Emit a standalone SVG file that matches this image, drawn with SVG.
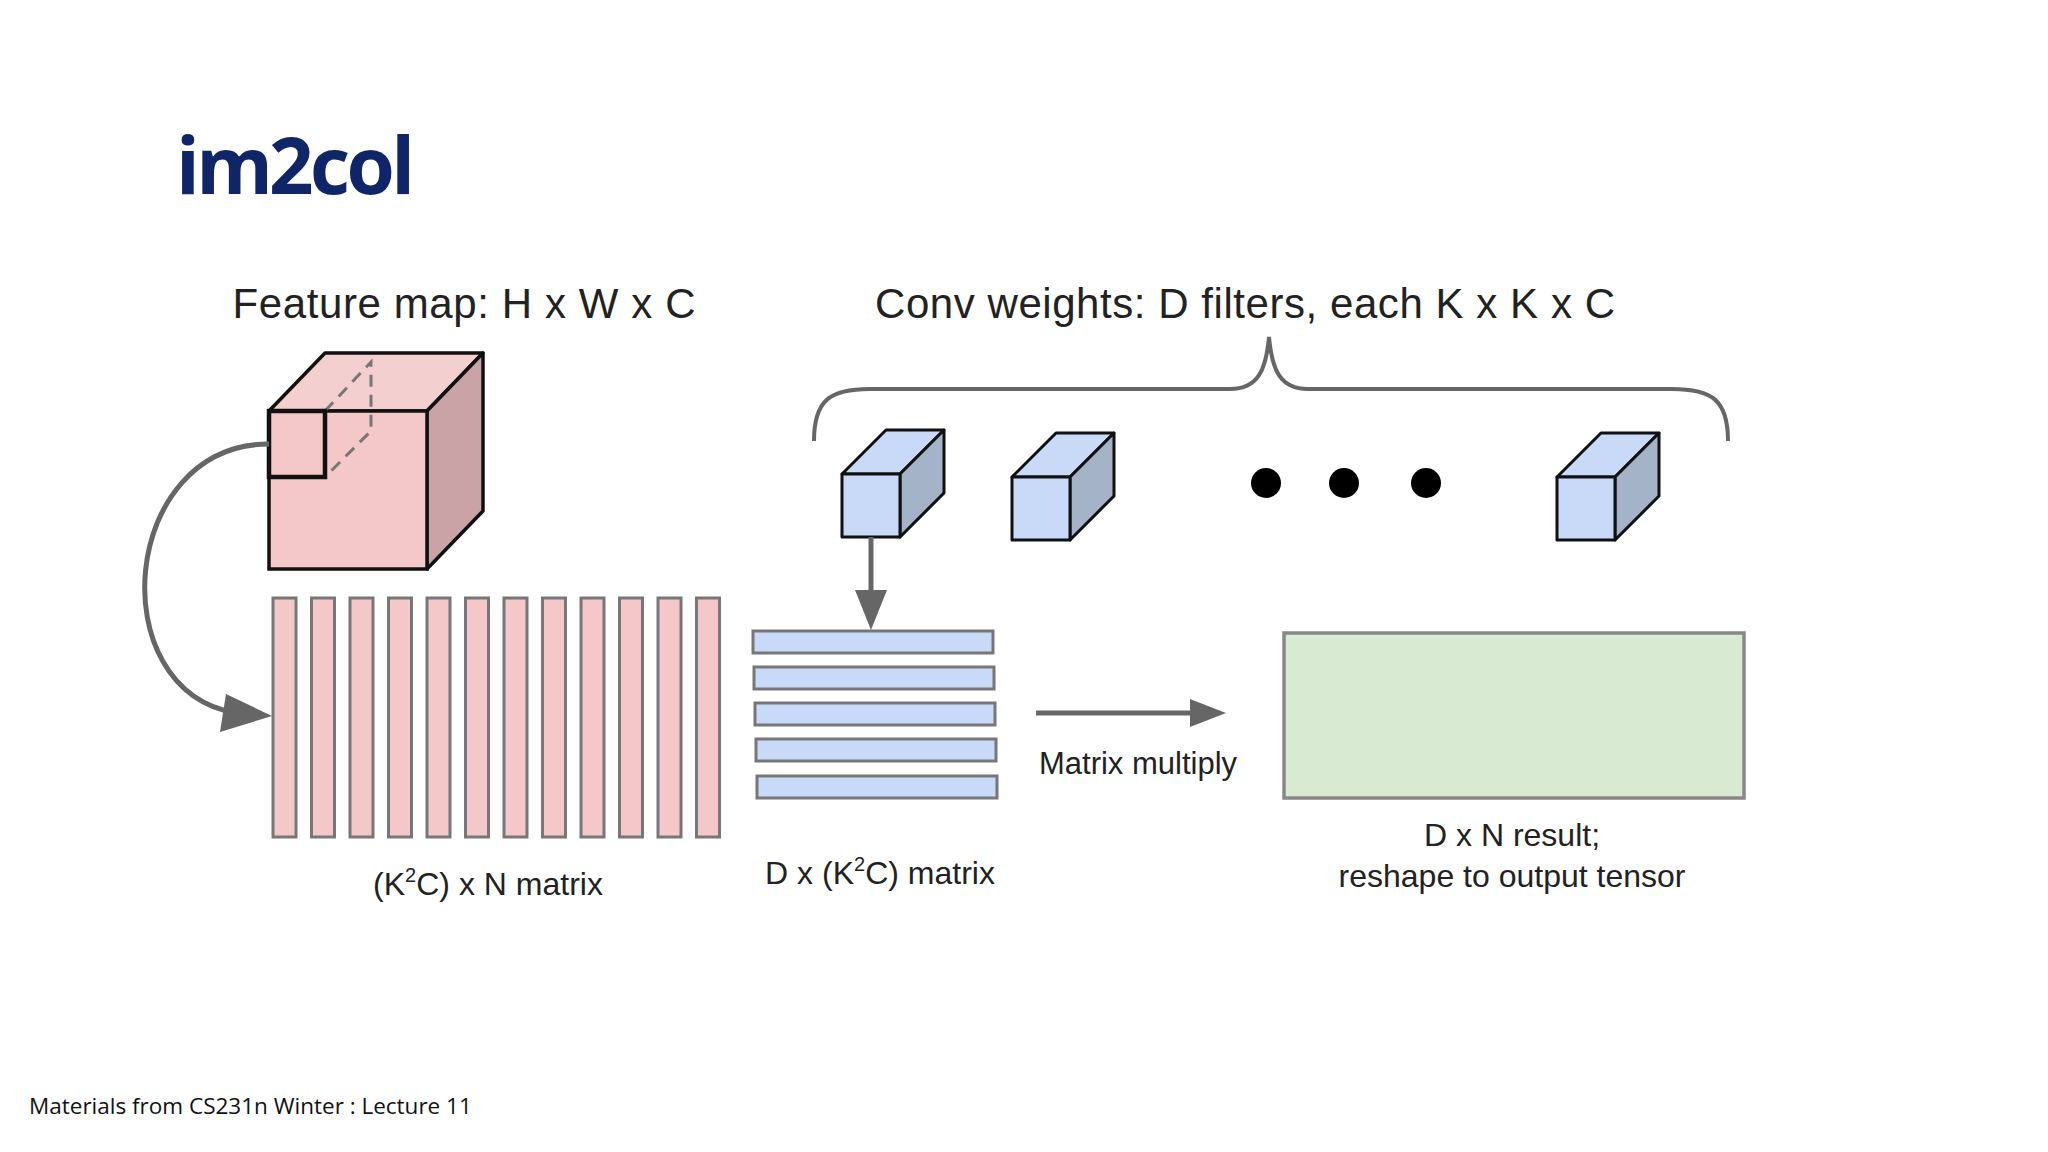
<svg xmlns="http://www.w3.org/2000/svg" width="2048" height="1152" viewBox="0 0 2048 1152">
<style>
.t{font-family:"Liberation Sans",Arial,sans-serif;fill:#222;}
.col{fill:#f4c7c8;stroke:#777;stroke-width:3;}
.bar{fill:#c9daf8;stroke:#777;stroke-width:3;}
.fr{fill:#c9daf8;stroke:#111;stroke-width:3;stroke-linejoin:round;}
.sd{fill:#a5b3c8;stroke:#111;stroke-width:3;stroke-linejoin:round;}
.conn{fill:none;stroke:#666;stroke-width:5;}
</style>
<rect width="2048" height="1152" fill="#fff"/>
<text x="176" y="194" font-family="'Open Sans',sans-serif" font-weight="bold" font-size="78" fill="#0f2567" textLength="239">im2col</text>
<text class="t" x="464" y="318" font-size="42" text-anchor="middle" textLength="463">Feature map: H x W x C</text>
<text class="t" x="1245" y="318" font-size="42" text-anchor="middle" textLength="740">Conv weights: D filters, each K x K x C</text>

<g id="feature-cube">
<polygon points="269,411 325,353 483,353 427,411" fill="#f4cfd0" stroke="#111" stroke-width="3.5" stroke-linejoin="round"/>
<polygon points="427,411 483,353 483,511 427,569" fill="#c9a3a5" stroke="#111" stroke-width="3.5" stroke-linejoin="round"/>
<rect x="269" y="411" width="158" height="158" fill="#f4c7c8" stroke="#111" stroke-width="3.5"/>
<path d="M325,411 L371,362 L371,431 L325,477" fill="none" stroke="#777" stroke-width="3" stroke-dasharray="12,8"/>
<rect x="269" y="411" width="56" height="66" fill="none" stroke="#111" stroke-width="4.5"/>
</g>

<g id="columns">
<rect class="col" x="273" y="598" width="23" height="239"/>
<rect class="col" x="311.5" y="598" width="23" height="239"/>
<rect class="col" x="350" y="598" width="23" height="239"/>
<rect class="col" x="388.5" y="598" width="23" height="239"/>
<rect class="col" x="427" y="598" width="23" height="239"/>
<rect class="col" x="465.5" y="598" width="23" height="239"/>
<rect class="col" x="504" y="598" width="23" height="239"/>
<rect class="col" x="542.5" y="598" width="23" height="239"/>
<rect class="col" x="581" y="598" width="23" height="239"/>
<rect class="col" x="619.5" y="598" width="23" height="239"/>
<rect class="col" x="658" y="598" width="23" height="239"/>
<rect class="col" x="696.5" y="598" width="23" height="239"/>
<text class="t" x="488" y="895" font-size="32" text-anchor="middle">(K<tspan font-size="20" dy="-13">2</tspan><tspan dy="13">C) x N matrix</tspan></text>
</g>

<g id="filters">
<path d="M814,441 C814,400 830,389 870,389 L1230,389 C1258,389 1266,370 1269,337 C1272,370 1280,389 1308,389 L1672,389 C1712,389 1728,400 1728,441" fill="none" stroke="#666" stroke-width="4"/>
<g id="filter1">
<polygon class="fr" points="842,474 886,430 944,430 900,474"/>
<polygon class="sd" points="900,474 944,430 944,493 900,537"/>
<rect class="fr" x="842" y="474" width="58" height="63"/>
</g>
<g id="filter2">
<polygon class="fr" points="1012,477 1056,433 1114,433 1070,477"/>
<polygon class="sd" points="1070,477 1114,433 1114,496 1070,540"/>
<rect class="fr" x="1012" y="477" width="58" height="63"/>
</g>
<circle cx="1266" cy="483" r="15" fill="#000"/>
<circle cx="1344" cy="483" r="15" fill="#000"/>
<circle cx="1426" cy="483" r="15" fill="#000"/>
<g id="filterD">
<polygon class="fr" points="1557,477 1601,433 1659,433 1615,477"/>
<polygon class="sd" points="1615,477 1659,433 1659,496 1615,540"/>
<rect class="fr" x="1557" y="477" width="58" height="63"/>
</g>
</g>

<g id="weight-matrix">
<rect class="bar" x="753" y="631" width="240" height="22"/>
<rect class="bar" x="754" y="667" width="240" height="22"/>
<rect class="bar" x="755" y="703" width="240" height="22"/>
<rect class="bar" x="756" y="739" width="240" height="22"/>
<rect class="bar" x="757" y="776" width="240" height="22"/>
<text class="t" x="880" y="884" font-size="32" text-anchor="middle">D x (K<tspan font-size="20" dy="-13">2</tspan><tspan dy="13">C) matrix</tspan></text>
</g>

<g id="result">
<rect x="1284" y="633" width="460" height="165" fill="#d9ead3" stroke="#888" stroke-width="3.5"/>
<text class="t" x="1512" y="846" font-size="32" text-anchor="middle">D x N result;</text>
<text class="t" x="1512" y="887" font-size="32" text-anchor="middle">reshape to output tensor</text>
</g>

<g id="connectors">
<path class="conn" d="M269,444 C120,444 100,690 236,713"/>
<polygon points="272,716 226,694 220,732" fill="#666"/>
<line class="conn" x1="871" y1="537" x2="871" y2="596"/>
<polygon points="871,630 855,590 887,590" fill="#666"/>
<line class="conn" x1="1036" y1="713" x2="1192" y2="713"/>
<polygon points="1226,713 1190,699 1190,727" fill="#666"/>
<text class="t" x="1138" y="774" font-size="31" text-anchor="middle">Matrix multiply</text>
</g>

<text x="29" y="1114" font-family="'Open Sans',sans-serif" font-size="22.5" fill="#111">Materials from CS231n Winter : Lecture 11</text>
</svg>
